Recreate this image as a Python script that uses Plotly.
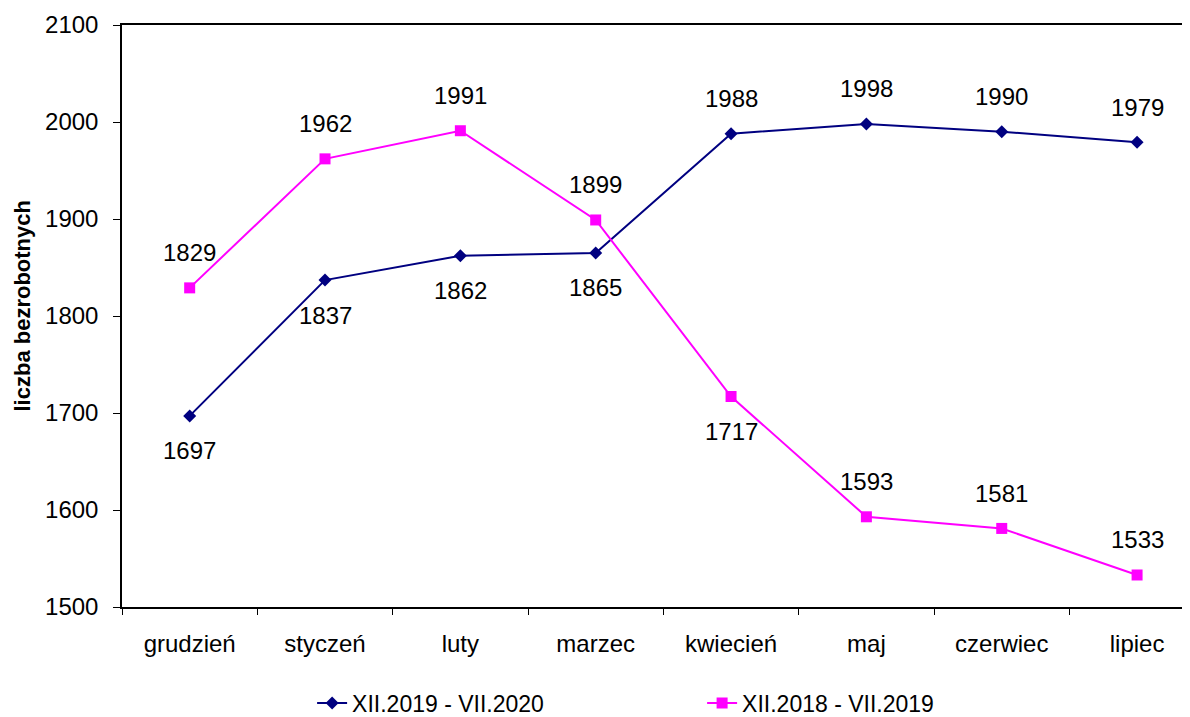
import plotly.graph_objects as go

months = ["grudzień", "styczeń", "luty", "marzec", "kwiecień", "maj", "czerwiec", "lipiec"]
series_2020_name = "XII.2019 - VII.2020"
series_2020 = [1697, 1837, 1862, 1865, 1988, 1998, 1990, 1979]
series_2019_name = "XII.2018 - VII.2019"
series_2019 = [1829, 1962, 1991, 1899, 1717, 1593, 1581, 1533]
# label placement: +1 above the marker, -1 below
pos_2020 = [-1, -1, -1, -1, 1, 1, 1, 1]
pos_2019 = [1, 1, 1, 1, -1, 1, 1, 1]
y_ticks = [1500, 1600, 1700, 1800, 1900, 2000, 2100]

FONT = "Liberation Sans, Arial, Helvetica, sans-serif"
BLUE = "#000080"
PINK = "#FF00FF"

fig = go.Figure()
fig.add_trace(go.Scatter(
    x=months, y=series_2020, name=series_2020_name, mode="lines+markers",
    line=dict(color=BLUE, width=2),
    marker=dict(symbol="diamond", size=10, color=BLUE),
))
fig.add_trace(go.Scatter(
    x=months, y=series_2019, name=series_2019_name, mode="lines+markers",
    line=dict(color=PINK, width=2),
    marker=dict(symbol="square", size=11, color=PINK),
))

annotations = []
for vals, pos in ((series_2020, pos_2020), (series_2019, pos_2019)):
    for m, v, p in zip(months, vals, pos):
        annotations.append(dict(
            x=m, y=v, xref="x", yref="y", text=str(v), showarrow=False,
            yshift=35 * p, font=dict(family=FONT, size=24, color="black"),
        ))

annotations.append(dict(
    text="<b>liczba bezrobotnych</b>", textangle=-90, showarrow=False,
    xref="paper", yref="paper", x=-0.0927, y=0.518,
    xanchor="center", yanchor="middle",
    font=dict(family=FONT, size=22, color="black"),
))

fig.update_layout(
    width=1190, height=717,
    margin=dict(l=114, r=8, t=17, b=118, autoexpand=False),
    paper_bgcolor="white", plot_bgcolor="white",
    font=dict(family=FONT, size=24, color="black"),
    showlegend=True,
    legend=dict(
        orientation="h", x=0.178, y=-0.165, xanchor="left", yanchor="middle",
        font=dict(family=FONT, size=23, color="black"),
        entrywidth=345, entrywidthmode="pixels",
        bgcolor="rgba(0,0,0,0)",
    ),
    annotations=annotations,
    xaxis=dict(
        type="category", categoryorder="array", categoryarray=months,
        range=[-0.5, 7.391], automargin=False,
        showline=True, linecolor="black", linewidth=1.5, mirror=True,
        showgrid=False, zeroline=False,
        ticks="outside", ticklen=6, tickcolor="black", tickwidth=1,
        tickson="boundaries", ticklabelstandoff=14,
        tickfont=dict(family=FONT, size=24, color="black"),
    ),
    yaxis=dict(
        range=[1500, 2100], tickvals=y_ticks, automargin=False,
        showline=True, linecolor="black", linewidth=1.5, mirror=False,
        showgrid=False, zeroline=False,
        ticks="outside", ticklen=7, tickcolor="black", tickwidth=1,
        ticklabelstandoff=10,
        tickfont=dict(family=FONT, size=24, color="black"),
    ),
)

fig.write_html("out.html")
